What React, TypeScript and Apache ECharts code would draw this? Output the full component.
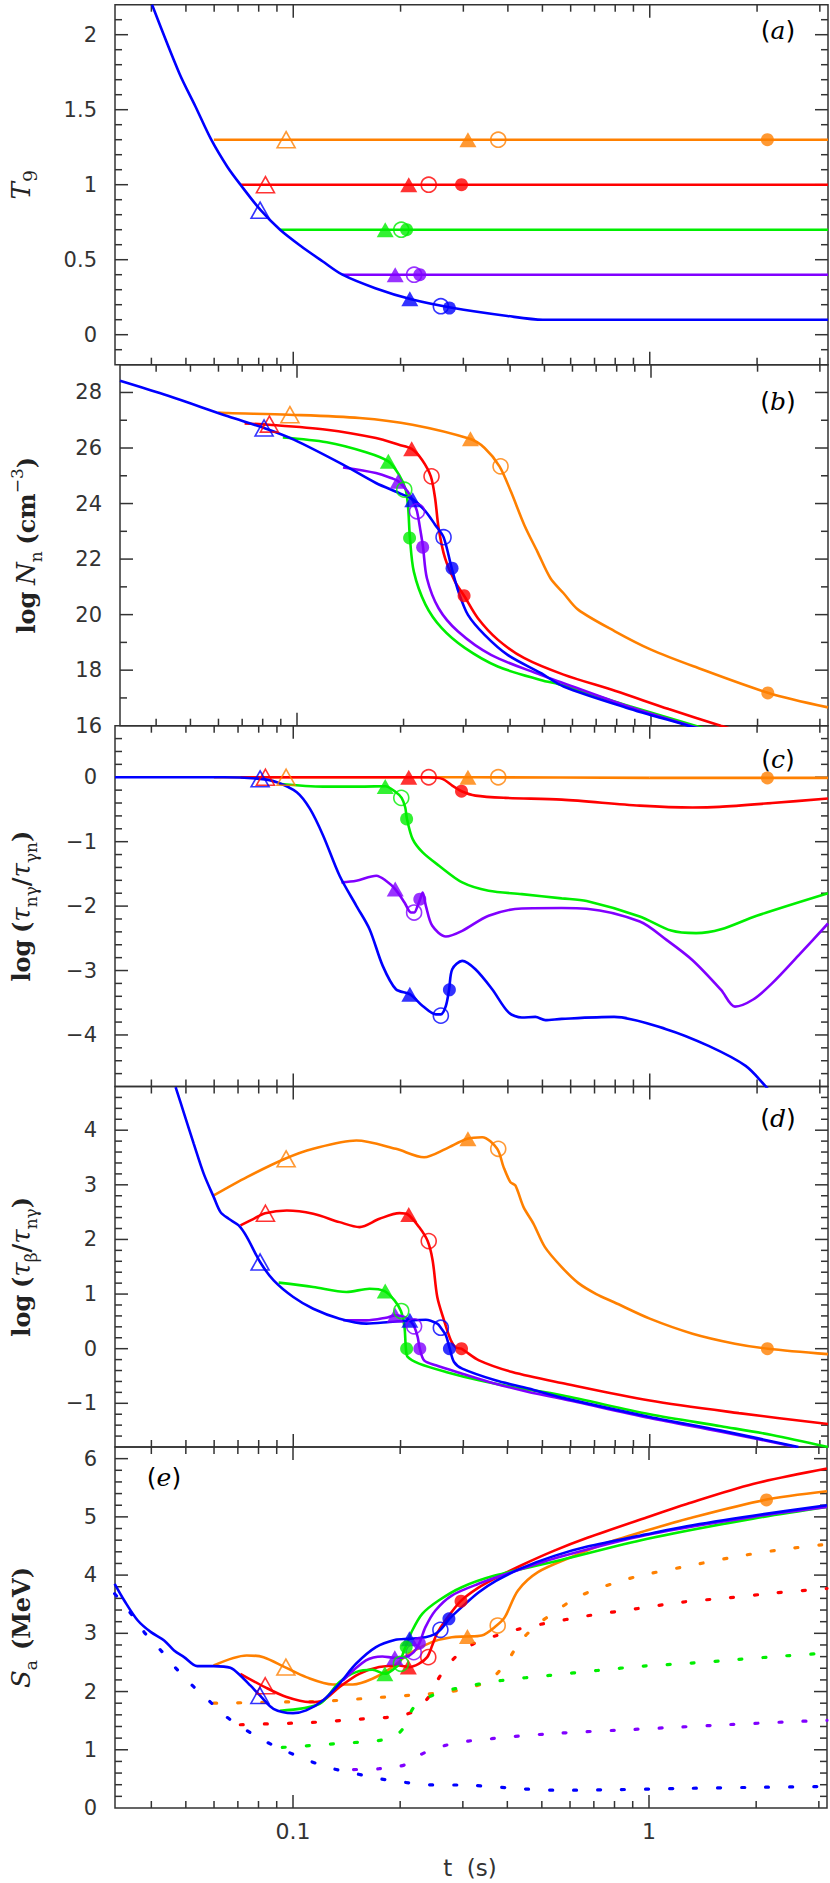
import React, { useEffect, useRef } from 'react';
import * as echarts from 'echarts';

// ---------- axes ----------
const X_MIN = -1.5; // log10(t) ; t from 10^-1.5 to 10^0.5 s
const X_MAX = 0.5;
const X_MAJOR = [-1, 0];
const X_MINOR_T = [0.04, 0.05, 0.06, 0.07, 0.08, 0.09, 0.2, 0.3, 0.4, 0.5, 0.6, 0.7, 0.8, 0.9, 2, 3];
const X_TICK_LABELS: Record<string, string> = { '-1': '0.1', '0': '1' };

const PANEL_Y = [
  { min: -0.2, max: 2.2, minor: 0.1, major: 0.5 },
  { min: 16, max: 29, minor: 1, major: 2 },
  { min: -4.8, max: 0.8, minor: 0.2, major: 1 },
  { min: -1.8, max: 4.8, minor: 0.2, major: 1 },
  { min: 0, max: 6.2, minor: 0.2, major: 1 },
];
const BOUNDS = [4.7, 364.7, 725.7, 1086.5, 1447, 1808];
const PANEL_TAGS = ['a', 'b', 'c', 'd', 'e'];

const COLORS: Record<string, string> = {
  orange: '#ff8000',
  red: '#ff0000',
  green: '#00ee00',
  purple: '#8000ff',
  blue: '#0000ff',
};
const ORDER = ['orange', 'red', 'green', 'purple', 'blue'];

// ---------- panel (a): T9 ----------
const A_ORANGE = [[-1.2226, 1.3], [0.5, 1.3]];
const A_RED = [[-1.148, 1.0], [0.5, 1.0]];
const A_GREEN = [[-1.037, 0.7], [0.5, 0.7]];
const A_PURPLE = [[-0.862, 0.4], [0.5, 0.4]];
const A_BLUE = [[-1.396, 2.2], [-1.319, 1.74], [-1.274, 1.52], [-1.23, 1.3], [-1.185, 1.12], [-1.148, 1.0], [-1.092, 0.832], [-1.037, 0.7], [-0.978, 0.59], [-0.918, 0.49], [-0.862, 0.4], [-0.77, 0.31], [-0.669, 0.236], [-0.555, 0.18], [-0.399, 0.125], [-0.3, 0.1], [0.5, 0.1]];

// ---------- panel (b): log Nn ----------
const B_ORANGE = [[-1.2226, 27.28], [-1.195, 27.26], [-1.023, 27.2], [-0.823, 27.08], [-0.674, 26.84], [-0.512, 26.33], [-0.47, 26.0], [-0.428, 25.34], [-0.396, 24.44], [-0.358, 23.23], [-0.321, 22.27], [-0.284, 21.31], [-0.247, 20.77], [-0.206, 20.18], [-0.102, 19.4], [0.0, 18.74], [0.12, 18.14], [0.332, 17.18], [0.5, 16.66]];
const B_RED = [[-1.148, 26.88], [-1.079, 26.84], [-0.916, 26.66], [-0.777, 26.36], [-0.712, 26.12], [-0.676, 25.97], [-0.647, 25.58], [-0.622, 24.98], [-0.61, 24.2], [-0.6, 23.12], [-0.582, 22.04], [-0.554, 21.2], [-0.528, 20.68], [-0.489, 19.87], [-0.433, 19.1], [-0.359, 18.44], [-0.247, 17.84], [-0.1, 17.25], [0.05, 16.6], [0.197, 16.0], [0.25, 15.8]];
const B_GREEN = [[-1.04, 26.38], [-0.916, 26.21], [-0.805, 25.85], [-0.742, 25.52], [-0.712, 25.04], [-0.693, 24.5], [-0.686, 23.84], [-0.681, 22.76], [-0.67, 21.55], [-0.637, 20.36], [-0.591, 19.51], [-0.526, 18.8], [-0.433, 18.13], [-0.312, 17.65], [-0.247, 17.45], [-0.06, 16.7], [0.125, 16.0], [0.15, 15.9]];
const B_PURPLE = [[-0.87, 25.3], [-0.777, 25.1], [-0.73, 24.9], [-0.714, 24.8], [-0.688, 24.44], [-0.67, 24.02], [-0.661, 23.72], [-0.651, 23.0], [-0.644, 22.43], [-0.633, 21.31], [-0.6, 20.23], [-0.545, 19.39], [-0.452, 18.55], [-0.312, 17.83], [-0.247, 17.53], [-0.07, 16.72], [0.11, 16.0], [0.14, 15.9]];
const B_BLUE = [[-1.5, 28.42], [-1.364, 27.88], [-1.195, 27.14], [-1.093, 26.72], [-1.009, 26.3], [-0.87, 25.4], [-0.777, 24.74], [-0.712, 24.38], [-0.672, 24.14], [-0.637, 23.72], [-0.61, 23.24], [-0.586, 22.79], [-0.563, 21.67], [-0.544, 20.83], [-0.517, 19.99], [-0.47, 19.27], [-0.405, 18.55], [-0.312, 17.9], [-0.247, 17.41], [-0.07, 16.65], [0.105, 16.0], [0.13, 15.9]];

// ---------- panel (c): log(tau_ng / tau_gn) ----------
const C_ORANGE = [[-1.2226, 0], [-0.5, 0], [0, -0.01], [0.5, -0.01]];
const C_RED = [[-1.148, 0], [-0.62, 0], [-0.582, -0.025], [-0.554, -0.13], [-0.528, -0.217], [-0.489, -0.285], [-0.405, -0.32], [-0.247, -0.347], [-0.028, -0.44], [0.12, -0.47], [0.195, -0.46], [0.343, -0.4], [0.5, -0.33]];
const C_GREEN = [[-1.04, -0.1], [-0.916, -0.145], [-0.805, -0.145], [-0.742, -0.14], [-0.712, -0.233], [-0.696, -0.32], [-0.686, -0.466], [-0.681, -0.647], [-0.665, -0.96], [-0.637, -1.166], [-0.591, -1.373], [-0.526, -1.632], [-0.452, -1.762], [-0.359, -1.814], [-0.247, -1.88], [-0.177, -1.92], [-0.028, -2.16], [0.06, -2.38], [0.13, -2.42], [0.2, -2.36], [0.3, -2.15], [0.5, -1.8]];
const C_PURPLE = [[-0.865, -1.632], [-0.823, -1.606], [-0.767, -1.529], [-0.74, -1.606], [-0.714, -1.736], [-0.688, -1.943], [-0.67, -2.099], [-0.661, -2.1], [-0.651, -1.995], [-0.644, -1.892], [-0.637, -1.788], [-0.628, -1.995], [-0.61, -2.306], [-0.572, -2.472], [-0.526, -2.384], [-0.452, -2.15], [-0.359, -2.037], [-0.247, -2.03], [-0.177, -2.04], [-0.028, -2.24], [0.046, -2.52], [0.12, -2.84], [0.2, -3.3], [0.239, -3.56], [0.29, -3.45], [0.343, -3.2], [0.42, -2.75], [0.5, -2.27]];
const C_BLUE = [[-1.5, 0], [-1.195, 0], [-1.093, -0.025], [-1.046, -0.077], [-0.99, -0.233], [-0.953, -0.492], [-0.916, -0.907], [-0.87, -1.529], [-0.823, -1.995], [-0.786, -2.358], [-0.749, -2.928], [-0.712, -3.291], [-0.672, -3.369], [-0.637, -3.55], [-0.6, -3.68], [-0.586, -3.68], [-0.572, -3.55], [-0.563, -3.3], [-0.554, -2.98], [-0.526, -2.85], [-0.489, -2.98], [-0.442, -3.29], [-0.396, -3.65], [-0.359, -3.73], [-0.321, -3.72], [-0.293, -3.77], [-0.247, -3.75], [-0.1, -3.72], [0.046, -3.91], [0.165, -4.17], [0.269, -4.48], [0.324, -4.79], [0.34, -4.9]];

// ---------- panel (d): log(tau_beta / tau_ng) ----------
const D_ORANGE = [[-1.223, 2.805], [-1.13, 3.14], [-1.023, 3.476], [-0.944, 3.659], [-0.823, 3.811], [-0.712, 3.659], [-0.633, 3.506], [-0.572, 3.659], [-0.512, 3.842], [-0.47, 3.872], [-0.428, 3.659], [-0.41, 3.324], [-0.391, 3.049], [-0.377, 2.988], [-0.354, 2.592], [-0.326, 2.287], [-0.294, 1.86], [-0.247, 1.494], [-0.2, 1.2], [-0.15, 1.0], [-0.1, 0.85], [0.0, 0.55], [0.12, 0.275], [0.239, 0.092], [0.332, 0.0], [0.5, -0.1]];
const D_RED = [[-1.148, 2.256], [-1.111, 2.378], [-1.079, 2.48], [-1.018, 2.53], [-0.944, 2.47], [-0.87, 2.317], [-0.814, 2.226], [-0.758, 2.378], [-0.702, 2.482], [-0.679, 2.458], [-0.647, 2.226], [-0.623, 1.97], [-0.609, 1.616], [-0.596, 0.946], [-0.577, 0.518], [-0.558, 0.153], [-0.544, 0.02], [-0.529, 0.0], [-0.479, -0.213], [-0.386, -0.426], [-0.247, -0.628], [0.0, -0.95], [0.25, -1.18], [0.5, -1.38]];
const D_GREEN = [[-1.041, 1.21], [-0.944, 1.13], [-0.851, 1.037], [-0.786, 1.098], [-0.744, 1.055], [-0.716, 0.884], [-0.698, 0.689], [-0.688, 0.397], [-0.684, 0.0], [-0.679, -0.152], [-0.647, -0.274], [-0.572, -0.426], [-0.479, -0.579], [-0.386, -0.7], [-0.247, -0.853], [0.0, -1.2], [0.2, -1.42], [0.343, -1.58], [0.5, -1.8]];
const D_PURPLE = [[-0.86, 0.52], [-0.795, 0.518], [-0.74, 0.567], [-0.714, 0.61], [-0.688, 0.58], [-0.67, 0.49], [-0.661, 0.409], [-0.651, 0.214], [-0.645, 0.0], [-0.633, -0.213], [-0.6, -0.305], [-0.526, -0.457], [-0.433, -0.64], [-0.34, -0.792], [-0.247, -0.914], [0.0, -1.27], [0.2, -1.52], [0.41, -1.8]];
const D_BLUE = [[-1.33, 4.79], [-1.306, 4.3], [-1.279, 3.75], [-1.251, 3.2], [-1.223, 2.775], [-1.204, 2.5], [-1.181, 2.378], [-1.153, 2.256], [-1.13, 2.043], [-1.093, 1.586], [-1.055, 1.25], [-1.0, 0.946], [-0.944, 0.732], [-0.87, 0.549], [-0.795, 0.458], [-0.73, 0.488], [-0.675, 0.519], [-0.628, 0.531], [-0.596, 0.458], [-0.586, 0.384], [-0.572, 0.244], [-0.561, 0.0], [-0.549, -0.244], [-0.526, -0.365], [-0.433, -0.579], [-0.34, -0.731], [-0.247, -0.896], [0.0, -1.25], [0.2, -1.5], [0.417, -1.8]];

// ---------- panel (e): Sa (MeV) ----------
const E_ORANGE = [[-1.223, 2.448], [-1.13, 2.62], [-1.083, 2.591], [-1.023, 2.42], [-0.963, 2.248], [-0.888, 2.122], [-0.832, 2.122], [-0.777, 2.22], [-0.721, 2.42], [-0.675, 2.648], [-0.61, 2.849], [-0.554, 2.934], [-0.512, 2.945], [-0.47, 2.963], [-0.428, 3.134], [-0.405, 3.277], [-0.368, 3.735], [-0.312, 4.05], [-0.219, 4.307], [-0.126, 4.535], [-0.007, 4.764], [0.106, 4.964], [0.324, 5.29], [0.5, 5.44]];
const E_RED = [[-1.148, 2.305], [-1.079, 2.076], [-1.018, 1.905], [-0.953, 1.819], [-0.916, 1.847], [-0.87, 2.076], [-0.814, 2.305], [-0.758, 2.42], [-0.702, 2.448], [-0.675, 2.42], [-0.647, 2.477], [-0.623, 2.591], [-0.609, 2.791], [-0.596, 2.991], [-0.572, 3.22], [-0.529, 3.552], [-0.48, 3.78], [-0.43, 3.95], [-0.358, 4.17], [-0.266, 4.42], [-0.173, 4.64], [-0.007, 4.99], [0.106, 5.222], [0.292, 5.565], [0.5, 5.83]];
const E_GREEN = [[-1.037, 1.67], [-0.925, 1.79], [-0.87, 2.162], [-0.823, 2.334], [-0.777, 2.374], [-0.741, 2.305], [-0.716, 2.391], [-0.702, 2.477], [-0.688, 2.706], [-0.684, 2.763], [-0.665, 3.048], [-0.637, 3.334], [-0.591, 3.563], [-0.526, 3.792], [-0.433, 3.992], [-0.247, 4.26], [-0.007, 4.62], [0.292, 4.97], [0.5, 5.17]];
const E_PURPLE = [[-0.86, 2.19], [-0.795, 2.534], [-0.749, 2.603], [-0.714, 2.58], [-0.684, 2.591], [-0.661, 2.677], [-0.645, 2.831], [-0.628, 3.106], [-0.6, 3.392], [-0.554, 3.649], [-0.479, 3.85], [-0.386, 4.05], [-0.247, 4.32], [-0.007, 4.69], [0.292, 5.0], [0.5, 5.17]];
const E_BLUE = [[-1.501, 3.849], [-1.474, 3.564], [-1.436, 3.22], [-1.399, 3.02], [-1.362, 2.877], [-1.334, 2.705], [-1.306, 2.591], [-1.269, 2.436], [-1.223, 2.436], [-1.176, 2.408], [-1.148, 2.276], [-1.12, 2.105], [-1.093, 1.933], [-1.055, 1.704], [-1.0, 1.63], [-0.963, 1.676], [-0.916, 1.847], [-0.87, 2.133], [-0.823, 2.477], [-0.767, 2.763], [-0.712, 2.888], [-0.675, 2.906], [-0.628, 2.934], [-0.6, 2.991], [-0.586, 3.06], [-0.572, 3.163], [-0.561, 3.249], [-0.526, 3.45], [-0.479, 3.7], [-0.43, 3.9], [-0.358, 4.12], [-0.266, 4.33], [-0.173, 4.49], [-0.007, 4.7], [0.106, 4.84], [0.292, 5.02], [0.5, 5.2]];

const E_ORANGE_DOT = [[-1.2226, 1.8], [-1.037, 1.82], [-0.907, 1.836], [-0.772, 1.893], [-0.642, 1.95], [-0.572, 1.99], [-0.507, 2.06], [-0.447, 2.2], [-0.4, 2.505], [-0.363, 2.849], [-0.317, 3.134], [-0.266, 3.36], [-0.21, 3.592], [-0.154, 3.746], [-0.089, 3.878], [-0.024, 3.992], [0.106, 4.152], [0.236, 4.307], [0.371, 4.438], [0.5, 4.53]];
const E_RED_DOT = [[-1.148, 1.43], [-1.06, 1.447], [-0.995, 1.458], [-0.925, 1.476], [-0.86, 1.504], [-0.795, 1.533], [-0.73, 1.562], [-0.665, 1.647], [-0.619, 1.905], [-0.586, 2.276], [-0.544, 2.591], [-0.493, 2.82], [-0.428, 2.963], [-0.363, 3.077], [-0.298, 3.163], [-0.168, 3.306], [-0.038, 3.42], [0.092, 3.535], [0.222, 3.609], [0.357, 3.695], [0.5, 3.77]];
const E_GREEN_DOT = [[-1.03, 1.04], [-0.944, 1.075], [-0.879, 1.104], [-0.809, 1.133], [-0.744, 1.173], [-0.71, 1.25], [-0.688, 1.39], [-0.66, 1.733], [-0.609, 1.933], [-0.544, 2.05], [-0.414, 2.19], [-0.28, 2.277], [-0.145, 2.362], [-0.015, 2.437], [0.12, 2.488], [0.25, 2.551], [0.385, 2.614], [0.5, 2.66]];
const E_PURPLE_DOT = [[-0.83, 0.66], [-0.758, 0.675], [-0.702, 0.715], [-0.66, 0.8], [-0.637, 0.93], [-0.572, 1.075], [-0.507, 1.15], [-0.442, 1.19], [-0.377, 1.23], [-0.247, 1.287], [-0.043, 1.35], [0.087, 1.39], [0.217, 1.43], [0.417, 1.487], [0.5, 1.505]];
const E_BLUE_DOT = [[-1.501, 3.68], [-1.455, 3.335], [-1.418, 3.02], [-1.371, 2.705], [-1.33, 2.408], [-1.283, 2.105], [-1.232, 1.819], [-1.186, 1.561], [-1.13, 1.333], [-1.074, 1.133], [-1.014, 0.961], [-0.953, 0.807], [-0.888, 0.675], [-0.823, 0.589], [-0.758, 0.504], [-0.693, 0.446], [-0.628, 0.401], [-0.5, 0.39], [-0.36, 0.33], [-0.25, 0.305], [-0.1, 0.315], [0.1, 0.337], [0.3, 0.355], [0.5, 0.37]];

// ---------- markers: [open triangle, filled triangle, open circle, filled circle] ----------
const MARK_T: Record<string, (number | null)[]> = {
  orange: [-1.02, -0.51, -0.425, 0.33],
  red: [-1.078, -0.676, -0.62, -0.528],
  green: [null, -0.742, -0.697, -0.682],
  purple: [null, -0.714, -0.661, -0.645],
  blue: [-1.093, -0.673, -0.586, -0.562],
};
const MARK_A: Record<string, (number | null)[]> = { orange: [1.3, 1.3, 1.3, 1.3], red: [1, 1, 1, 1], green: [null, 0.7, 0.7, 0.7], purple: [null, 0.4, 0.4, 0.4], blue: [0.83, 0.24, 0.19, 0.178] };
const MARK_B: Record<string, (number | null)[]> = { orange: [27.2, 26.33, 25.34, 17.18], red: [26.86, 25.97, 24.98, 20.68], green: [null, 25.52, 24.5, 22.76], purple: [null, 24.8, 23.72, 22.43], blue: [26.72, 24.14, 22.79, 21.67] };
const MARK_C: Record<string, (number | null)[]> = { orange: [0, 0, 0, -0.01], red: [0, 0, 0, -0.217], green: [null, -0.145, -0.32, -0.647], purple: [null, -1.736, -2.1, -1.892], blue: [-0.025, -3.369, -3.7, -3.3] };
const MARK_D: Record<string, (number | null)[]> = { orange: [3.476, 3.842, 3.659, 0], red: [2.48, 2.458, 1.97, 0], green: [null, 1.055, 0.689, 0], purple: [null, 0.61, 0.409, 0], blue: [1.586, 0.519, 0.384, 0] };
const MARK_E: Record<string, (number | null)[]> = { orange: [2.42, 2.945, 3.134, 5.29], red: [2.1, 2.42, 2.591, 3.552], green: [null, 2.305, 2.477, 2.763], purple: [null, 2.58, 2.677, 2.831], blue: [1.933, 2.906, 3.06, 3.249] };

const PANEL_LINES = [
  { orange: A_ORANGE, red: A_RED, green: A_GREEN, purple: A_PURPLE, blue: A_BLUE },
  { orange: B_ORANGE, red: B_RED, green: B_GREEN, purple: B_PURPLE, blue: B_BLUE },
  { orange: C_ORANGE, red: C_RED, green: C_GREEN, purple: C_PURPLE, blue: C_BLUE },
  { orange: D_ORANGE, red: D_RED, green: D_GREEN, purple: D_PURPLE, blue: D_BLUE },
  { orange: E_ORANGE, red: E_RED, green: E_GREEN, purple: E_PURPLE, blue: E_BLUE },
];
const E_DOTTED: Record<string, number[][]> = { orange: E_ORANGE_DOT, red: E_RED_DOT, green: E_GREEN_DOT, purple: E_PURPLE_DOT, blue: E_BLUE_DOT };
const PANEL_MARKS = [MARK_A, MARK_B, MARK_C, MARK_D, MARK_E];

const Y_NAMES = [
  '{it|T}{sub9|9}',
  '{b|log}  {it|N}{sub|n}  {b|(cm}{sup|−3}{b|)}',
  '{b|log}  {b|(}{it|τ}{sub|nγ}{b|/}{it|τ}{sub|γn}{b|)}',
  '{b|log}  {b|(}{it|τ}{sub|β}{b|/}{it|τ}{sub|nγ}{b|)}',
  '{it|S}{sub|a}   {b|(MeV)}',
];

const AXIS_COLOR = '#333';
const LEFT = 110.5;
const PLOT_W = 717.5;

function fmtNum(v: number) {
  const r = Math.round(v * 10) / 10;
  return String(r).replace('-', '−');
}

function buildOption() {
  const grid: any[] = [];
  const xAxis: any[] = [];
  const yAxis: any[] = [];
  const series: any[] = [];

  const rich = {
    b: { fontFamily: 'DejaVu Serif', fontWeight: 'bold', fontSize: 24, lineHeight: 36, color: '#222' },
    it: { fontFamily: 'DejaVu Serif', fontStyle: 'italic', fontSize: 26, lineHeight: 36, color: '#222' },
    sub: { fontFamily: 'DejaVu Serif', fontSize: 17, lineHeight: 18, verticalAlign: 'bottom', color: '#222' },
    sub9: { fontFamily: 'DejaVu Serif', fontSize: 19, lineHeight: 20, verticalAlign: 'bottom', color: '#222' },
    sup: { fontFamily: 'DejaVu Serif', fontSize: 17, lineHeight: 18, verticalAlign: 'top', color: '#222' },
  };

  for (let i = 0; i < 5; i++) {
    const py = PANEL_Y[i];
    grid.push({
      left: LEFT,
      width: PLOT_W,
      top: BOUNDS[i],
      height: BOUNDS[i + 1] - BOUNDS[i],
      show: true,
      borderColor: AXIS_COLOR,
      borderWidth: 1.5,
      backgroundColor: 'transparent',
    });
    xAxis.push({
      type: 'value',
      gridIndex: i,
      min: X_MIN,
      max: X_MAX,
      interval: 0.5,
      axisLine: { show: false },
      axisTick: { show: false },
      splitLine: { show: false },
      axisLabel: {
        show: i === 4,
        margin: 12,
        fontFamily: 'DejaVu Sans',
        fontSize: 22,
        color: '#333',
        formatter: (v: number) => X_TICK_LABELS[String(Math.round(v * 2) / 2)] || '',
      },
    });
    yAxis.push({
      type: 'value',
      gridIndex: i,
      min: py.min,
      max: py.max,
      interval: py.minor,
      axisLine: { show: false },
      axisTick: { show: false },
      splitLine: { show: false },
      axisLabel: {
        margin: 18,
        fontFamily: 'DejaVu Sans',
        fontSize: 21,
        color: '#333',
        formatter: (v: number) => {
          const q = v / py.major;
          return Math.abs(q - Math.round(q)) < 1e-6 ? fmtNum(v) : '';
        },
      },
      name: Y_NAMES[i],
      nameLocation: 'middle',
      nameRotate: 90,
      nameGap: 76,
      nameTextStyle: { rich },
    });

    // tick marks (inside, on all four sides)
    const tickData: number[][] = [];
    X_MAJOR.forEach((x) => tickData.push([x, py.min, 0, 1]));
    X_MINOR_T.forEach((t) => tickData.push([Math.log10(t), py.min, 0, 0]));
    const n = Math.round((py.max - py.min) / py.minor);
    for (let k = 1; k < n; k++) {
      const v = py.min + k * py.minor;
      const q = v / py.major;
      tickData.push([X_MIN, v, 1, Math.abs(q - Math.round(q)) < 1e-6 ? 1 : 0]);
    }
    series.push({
      type: 'custom',
      xAxisIndex: i,
      yAxisIndex: i,
      silent: true,
      z: 1,
      data: tickData,
      renderItem: (params: any, api: any) => {
        const kind = api.value(2);
        const len = api.value(3) ? 13 : 7;
        const st = { stroke: AXIS_COLOR, lineWidth: 1.5 };
        if (kind === 0) {
          const x = api.value(0);
          const b = api.coord([x, py.min]);
          const t = api.coord([x, py.max]);
          return {
            type: 'group',
            children: [
              { type: 'line', shape: { x1: b[0], y1: b[1], x2: b[0], y2: b[1] - len }, style: st },
              { type: 'line', shape: { x1: t[0], y1: t[1], x2: t[0], y2: t[1] + len }, style: st },
            ],
          };
        }
        const y = api.value(1);
        const l = api.coord([X_MIN, y]);
        const r = api.coord([X_MAX, y]);
        return {
          type: 'group',
          children: [
            { type: 'line', shape: { x1: l[0], y1: l[1], x2: l[0] + len, y2: l[1] }, style: st },
            { type: 'line', shape: { x1: r[0], y1: r[1], x2: r[0] - len, y2: r[1] }, style: st },
          ],
        };
      },
    });

    // dotted curves (panel e)
    if (i === 4) {
      ORDER.forEach((c) => {
        series.push({
          type: 'line',
          xAxisIndex: i,
          yAxisIndex: i,
          data: E_DOTTED[c],
          showSymbol: false,
          smooth: 0.3,
          silent: true,
          z: 2,
          lineStyle: { color: COLORS[c], width: 3.2, type: [3, 21], cap: 'round' },
        });
      });
    }

    // solid curves
    const lines: any = PANEL_LINES[i];
    ORDER.forEach((c) => {
      series.push({
        type: 'line',
        xAxisIndex: i,
        yAxisIndex: i,
        data: lines[c],
        showSymbol: false,
        smooth: 0.3,
        silent: true,
        z: 3,
        lineStyle: { color: COLORS[c], width: 2.6 },
      });
    });

    // markers
    const marks: any = PANEL_MARKS[i];
    const kinds = [
      { symbol: 'triangle', size: [18, 16], open: true },
      { symbol: 'triangle', size: [17, 15], open: false },
      { symbol: 'circle', size: 15, open: true },
      { symbol: 'circle', size: 13, open: false },
    ];
    kinds.forEach((kd, kIdx) => {
      const data: any[] = [];
      ORDER.forEach((c) => {
        const t = MARK_T[c][kIdx];
        const v = marks[c][kIdx];
        if (t === null || v === null) return;
        data.push({
          value: [t, v],
          itemStyle: kd.open
            ? { color: 'rgba(255,255,255,0)', borderColor: COLORS[c], borderWidth: 1.6 }
            : { color: COLORS[c], borderWidth: 0 },
        });
      });
      series.push({
        type: 'scatter',
        xAxisIndex: i,
        yAxisIndex: i,
        symbol: kd.symbol,
        symbolSize: kd.size,
        silent: true,
        z: 4,
        data,
      });
    });
  }

  const tagPos = [
    [778, 30],
    [778, 401],
    [778, 759],
    [778, 1118],
    [164, 1477],
  ];
  const graphic: any[] = PANEL_TAGS.map((tag, i) => ({
    type: 'text',
    x: tagPos[i][0],
    y: tagPos[i][1],
    style: {
      text: '{p|(}{l|' + tag + '}{p|)}',
      align: 'center',
      verticalAlign: 'middle',
      rich: {
        p: { fontFamily: 'DejaVu Sans', fontSize: 25, color: '#222' },
        l: { fontFamily: 'DejaVu Serif', fontStyle: 'italic', fontSize: 25, color: '#222' },
      },
    },
  }));
  graphic.push({
    type: 'text',
    x: 470,
    y: 1868,
    style: {
      text: 't  (s)',
      align: 'center',
      verticalAlign: 'middle',
      fontFamily: 'DejaVu Sans',
      fontSize: 23,
      fill: '#333',
    },
  });

  return {
    animation: false,
    backgroundColor: '#ffffff',
    grid,
    xAxis,
    yAxis,
    series,
    graphic,
  };
}

export default function App() {
  const ref = useRef<HTMLDivElement>(null);
  useEffect(() => {
    const chart = echarts.init(ref.current as HTMLDivElement, undefined, { renderer: 'svg' });
    chart.setOption(buildOption() as any);
    return () => chart.dispose();
  }, []);
  return (
    <div
      ref={ref}
      style={{ position: 'absolute', left: 0, top: 0, width: 830, height: 1883, background: '#fff' }}
    />
  );
}
